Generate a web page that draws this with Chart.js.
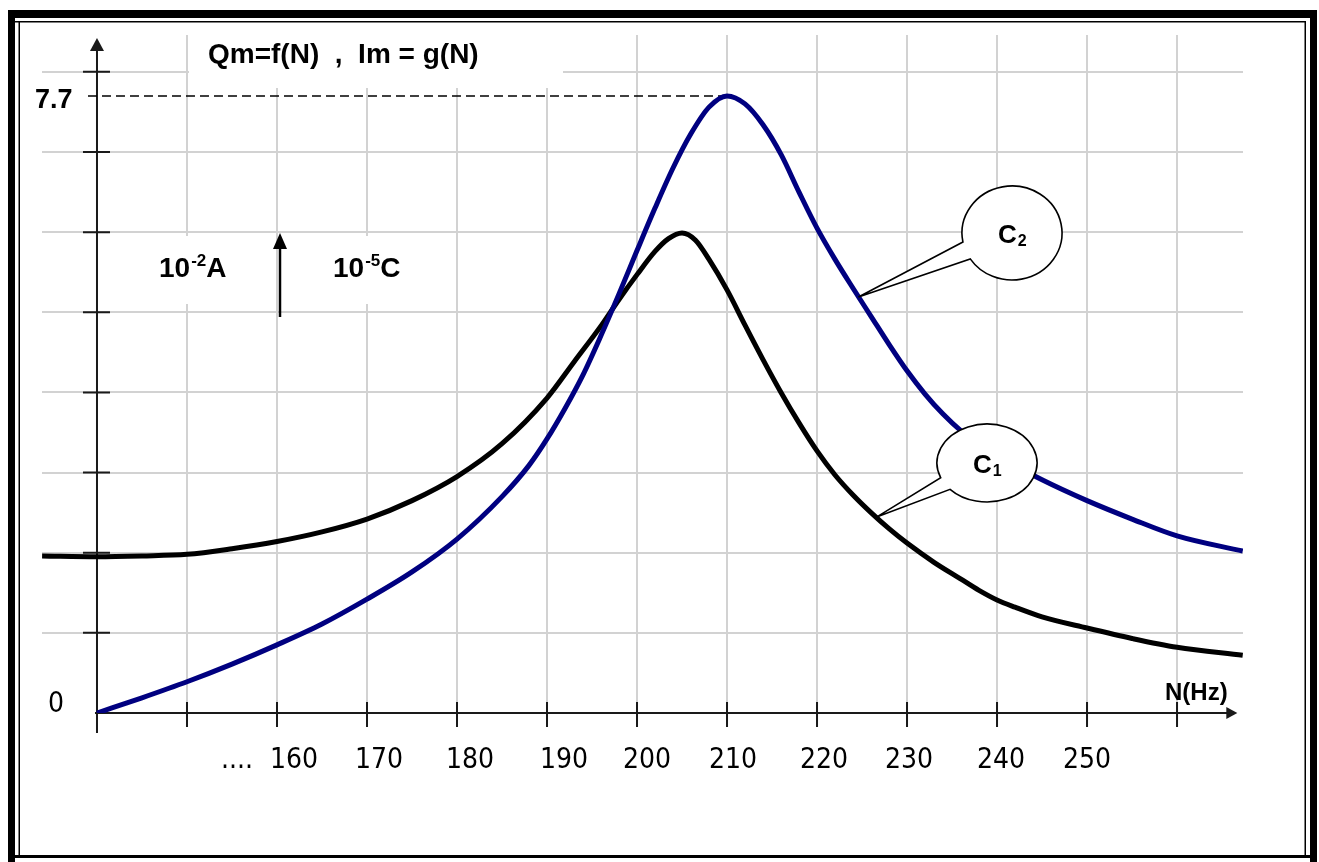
<!DOCTYPE html>
<html>
<head>
<meta charset="utf-8">
<script src="https://cdn.jsdelivr.net/npm/chart.js@4"></script>
<style>
  html, body { margin: 0; padding: 0; background: #fff; }
  #graphe { display: block; }
</style>
</head>
<body>
<canvas id="graphe" width="1319" height="862"></canvas>
<script>
// Qm = f(N) (C1, noir) et Im = g(N) (C2, bleu)

const freqC1 = [133.9, 140, 145, 150, 155, 160, 165, 170, 175, 180, 185, 190, 193, 196, 198, 200, 202, 203.5,
  205, 206.5, 208, 210, 212, 214, 216, 218, 220, 222, 224, 226, 228, 230, 233, 236, 238, 240, 242, 245, 250, 255, 260, 267.3];
const qmC1 = [1.96, 1.95, 1.96, 1.98, 2.05, 2.14, 2.26, 2.42, 2.65, 2.95, 3.36, 3.93, 4.38, 4.83, 5.16, 5.47, 5.76, 5.92,
  5.99, 5.90, 5.66, 5.28, 4.84, 4.41, 4.00, 3.62, 3.27, 2.97, 2.72, 2.50, 2.30, 2.12, 1.88, 1.67, 1.53, 1.41, 1.32, 1.20, 1.06, 0.93, 0.82, 0.72];

const freqC2 = [140, 145, 150, 155, 160, 165, 170, 175, 180, 185, 188, 190, 192, 194, 196, 198, 200, 202, 204, 206,
  208, 210, 212, 214, 216, 218, 220, 222, 224, 226, 228, 230, 232, 234, 236, 238, 240, 245, 250, 255, 260, 267.3];
const imC2 = [0, 0.19, 0.39, 0.61, 0.85, 1.11, 1.42, 1.76, 2.17, 2.70, 3.09, 3.42, 3.80, 4.22, 4.71, 5.23, 5.77, 6.30, 6.80, 7.23,
  7.56, 7.70, 7.60, 7.34, 6.97, 6.50, 6.05, 5.66, 5.30, 4.95, 4.60, 4.27, 3.98, 3.73, 3.52, 3.35, 3.21, 2.91, 2.65, 2.42, 2.21, 2.02];

const gridX = [150, 160, 170, 180, 190, 200, 210, 220, 230, 240, 250, 260];
const gridY = [1, 2, 3, 4, 5, 6, 7, 8];
const tickLabelsX = ['....', '160', '170', '180', '190', '200', '210', '220', '230', '240', '250'];
const pic = { freq: 210, val: 7.7 };

const paires = (xs, ys) => xs.map((v, i) => ({ x: v, y: ys[i] }));

// petit decalage des etiquettes (en px) comme sur l'original
const decalage = [50, 17, 12, 13, 17, 10, 6, 7, 2, 4, 0];

function texteIndice(ctx, base, petit, x, y, taille, haut) {
  // texte avec exposant (haut=true) ou indice
  ctx.font = `bold ${taille}px "Liberation Sans", Arial, sans-serif`;
  ctx.fillText(base, x, y);
  const w = ctx.measureText(base).width;
  ctx.font = `bold ${Math.round(taille * 0.62)}px "Liberation Sans", Arial, sans-serif`;
  ctx.fillText(petit, x + w + 1, haut ? y - taille * 0.38 : y + 3);
  return w + 1 + ctx.measureText(petit).width;
}

function bulle(ctx, cx, cy, rx, ry, a1, a2, tip, nom, indice) {
  ctx.beginPath();
  ctx.ellipse(cx, cy, rx, ry, 0, a1 * Math.PI / 180, (a2 + 360) * Math.PI / 180);
  ctx.lineTo(tip.x, tip.y);
  ctx.closePath();
  ctx.fillStyle = '#fff';
  ctx.fill();
  ctx.strokeStyle = '#000';
  ctx.lineWidth = 1.6;
  ctx.stroke();
  ctx.fillStyle = '#000';
  ctx.textBaseline = 'alphabetic';
  ctx.textAlign = 'left';
  texteIndice(ctx, nom, indice, cx - 14, cy + 10, 26, false);
}

const decor = {
  id: 'decor',
  beforeDatasetsDraw(chart) {
    const { ctx, scales: { x, y } } = chart;
    const x0 = x.getPixelForValue(140), y0 = y.getPixelForValue(0);
    ctx.save();
    // fonds blancs sous les textes
    ctx.fillStyle = '#fff';
    ctx.fillRect(189, 22, 374, 66);
    ctx.fillRect(150, 236, 88, 68);
    ctx.fillRect(322, 236, 88, 68);

    // axes
    ctx.strokeStyle = '#1a1a1a';
    ctx.fillStyle = '#1a1a1a';
    ctx.lineWidth = 2;
    ctx.beginPath();
    ctx.moveTo(x0, y0 + 20);
    ctx.lineTo(x0, chart.chartArea.top + 10);
    ctx.moveTo(x0 - 2, y0);
    ctx.lineTo(x.getPixelForValue(266.7) - 8, y0);
    gridY.forEach(v => {
      const py = y.getPixelForValue(v);
      ctx.moveTo(x0 - 14, py);
      ctx.lineTo(x0 + 13, py);
    });
    gridX.forEach(v => {
      const px = x.getPixelForValue(v);
      ctx.moveTo(px, y0 - 11);
      ctx.lineTo(px, y0 + 14);
    });
    ctx.stroke();
    // fleches
    const top = chart.chartArea.top + 3;
    ctx.beginPath();
    ctx.moveTo(x0, top);
    ctx.lineTo(x0 - 7, top + 13);
    ctx.lineTo(x0 + 7, top + 13);
    ctx.closePath();
    ctx.fill();
    const xt = x.getPixelForValue(266.7);
    ctx.beginPath();
    ctx.moveTo(xt, y0);
    ctx.lineTo(xt - 11, y0 - 6);
    ctx.lineTo(xt - 11, y0 + 6);
    ctx.closePath();
    ctx.fill();

    // fleche unites
    ctx.fillStyle = '#000';
    ctx.strokeStyle = '#000';
    ctx.lineWidth = 2.5;
    ctx.beginPath();
    ctx.moveTo(280, 317);
    ctx.lineTo(280, 245);
    ctx.stroke();
    ctx.beginPath();
    ctx.moveTo(280, 233);
    ctx.lineTo(273, 249);
    ctx.lineTo(287, 249);
    ctx.closePath();
    ctx.fill();

    // textes
    ctx.textAlign = 'left';
    ctx.textBaseline = 'alphabetic';
    ctx.font = 'bold 28px "Liberation Sans", Arial, sans-serif';
    ctx.fillText('Qm=f(N)  ,  Im = g(N)', 208, 63);
    ctx.font = 'bold 27px "Liberation Sans", Arial, sans-serif';
    ctx.fillText('7.7', 35, y.getPixelForValue(pic.val) + 12);
    let w = texteIndice(ctx, '10', '-2', 159, 277, 28, true);
    ctx.font = 'bold 28px "Liberation Sans", Arial, sans-serif';
    ctx.fillText('A', 159 + w, 277);
    w = texteIndice(ctx, '10', '-5', 333, 277, 28, true);
    ctx.font = 'bold 28px "Liberation Sans", Arial, sans-serif';
    ctx.fillText('C', 333 + w, 277);
    ctx.font = 'bold 24px "Liberation Sans", Arial, sans-serif';
    ctx.fillText('N(Hz)', 1165, 700);

    ctx.font = '28px "Liberation Sans Narrow", "DejaVu Sans Condensed", sans-serif';
    ctx.textAlign = 'center';
    ctx.fillText('0', 56, 712);
    ctx.font = '28px "Liberation Sans Narrow", "DejaVu Sans Condensed", sans-serif';
    tickLabelsX.forEach((lab, i) => {
      ctx.fillText(lab, x.getPixelForValue(gridX[i]) + decalage[i], 768);
    });
    ctx.restore();
  },
  afterDatasetsDraw(chart) {
    const { ctx, scales: { x, y } } = chart;
    ctx.save();
    bulle(ctx, 1012, 233, 50, 47, 169, 146.6,
      { x: x.getPixelForValue(224.6), y: y.getPixelForValue(5.19) }, 'C', '2');
    bulle(ctx, 987, 463, 50, 39, 157.7, 137.6,
      { x: x.getPixelForValue(226.7), y: y.getPixelForValue(2.45) }, 'C', '1');
    ctx.restore();
  },
  afterDraw(chart) {
    const { ctx } = chart;
    ctx.save();
    ctx.fillStyle = '#000';
    ctx.fillRect(8, 10, 1309, 8);
    ctx.fillRect(8, 10, 7, 852);
    ctx.fillRect(1310, 10, 7, 852);
    ctx.fillRect(15, 855, 1295, 3);
    ctx.fillRect(15, 21, 1291, 1.5);
    ctx.fillRect(18.5, 21, 1.5, 836);
    ctx.fillRect(1304.5, 21, 1.5, 836);
    ctx.restore();
  }
};

const fixeTicks = valeurs => scale => { scale.ticks = valeurs.map(v => ({ value: v })); };

new Chart(document.getElementById('graphe'), {
  type: 'line',
  data: {
    datasets: [
      {
        label: 'C2',
        data: paires(freqC2, imC2),
        borderColor: '#000080',
        borderWidth: 5,
        pointRadius: 0,
        cubicInterpolationMode: 'monotone'
      },
      {
        label: 'C1',
        data: paires(freqC1, qmC1),
        borderColor: '#000',
        borderWidth: 5,
        pointRadius: 0,
        cubicInterpolationMode: 'monotone'
      },
      {
        label: '7.7',
        data: [{ x: 139, y: pic.val }, { x: pic.freq + 0.8, y: pic.val }],
        borderColor: '#000',
        borderWidth: 1.5,
        borderDash: [9, 5],
        pointRadius: 0
      }
    ]
  },
  options: {
    responsive: false,
    animation: false,
    layout: { padding: { left: 42, top: 35, right: 76, bottom: 149 } },
    plugins: { legend: { display: false }, tooltip: { enabled: false } },
    scales: {
      x: {
        type: 'linear',
        min: 133.89,
        max: 267.33,
        afterBuildTicks: fixeTicks(gridX),
        ticks: { display: false },
        border: { display: false },
        grid: { color: '#d2d2d2', lineWidth: 2, drawTicks: false }
      },
      y: {
        type: 'linear',
        min: 0,
        max: 8.46,
        afterBuildTicks: fixeTicks(gridY),
        ticks: { display: false },
        border: { display: false },
        grid: { color: '#d2d2d2', lineWidth: 2, drawTicks: false }
      }
    }
  },
  plugins: [decor]
});
</script>
</body>
</html>
